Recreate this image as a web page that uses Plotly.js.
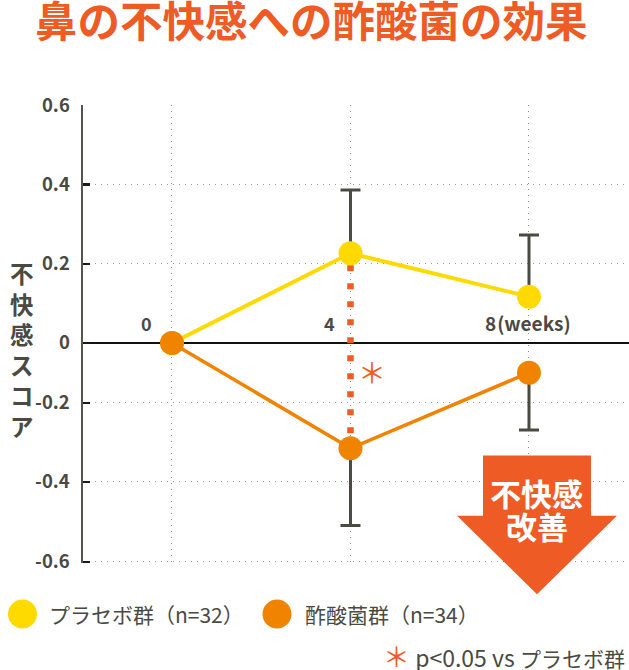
<!DOCTYPE html>
<html>
<head>
<meta charset="utf-8">
<script src="https://cdn.plot.ly/plotly-3.0.1.min.js"></script>
<style>
  html, body { margin: 0; padding: 0; background: #fff; }
  #chart { width: 629px; height: 670px; }
</style>
</head>
<body>
<div id="chart"></div>
<script>
// weeks on the x axis
const weeks = [0, 4, 8];

// scores (axis units, 0 line = baseline)
const placeboScore = [0, 0.2265, 0.117];
const placeboErrUp = [0, 0.160, 0.156];
const acetoScore = [0, -0.266, -0.075];
const acetoErrDown = [0, 0.195, 0.145];

const xTickLabels = ['0', '4', '8(weeks)'];
const yTickVals = [0.6, 0.4, 0.2, 0, -0.1515, -0.351, -0.553];
const yTickLabels = ['0.6', '0.4', '0.2', '0', '-0.2', '-0.4', '-0.6'];

const legendLabels = ['プラセボ群（n=32）', '酢酸菌群（n=34）'];

const FONT = '"Noto Sans CJK JP", "Noto Sans", sans-serif';
const DARK = '#4a4a42';
const RED = '#ef5b25';
const YELLOW = '#ffda00';
const ORANGE = '#f08300';

function renderChart(containerId) {
    // significance dots between the two groups at week 4
    const sigLine = {
        x: [weeks[1], weeks[1]],
        y: [acetoScore[1], placeboScore[1]],
        type: 'scatter',
        mode: 'lines',
        line: { color: RED, width: 6.5, dash: '3px,12px,3px,0px' },
        hoverinfo: 'skip'
    };

    const placebo = {
        x: weeks,
        y: placeboScore,
        type: 'scatter',
        mode: 'lines+markers',
        name: legendLabels[0],
        line: { color: YELLOW, width: 4 },
        marker: { color: YELLOW, size: 24 },
        error_y: {
            type: 'data', symmetric: false,
            array: placeboErrUp, arrayminus: [0, 0, 0],
            color: DARK, thickness: 3, width: 10
        }
    };

    const aceto = {
        x: weeks,
        y: acetoScore,
        type: 'scatter',
        mode: 'lines+markers',
        name: legendLabels[1],
        line: { color: ORANGE, width: 3.5 },
        marker: { color: ORANGE, size: 24 },
        error_y: {
            type: 'data', symmetric: false,
            array: [0, 0, 0], arrayminus: acetoErrDown,
            color: DARK, thickness: 3, width: 10
        }
    };

    const tickFont = { family: FONT, size: 18, color: DARK, weight: 'bold' };

    const annotations = [
        // y axis title, stacked vertically
        {
            xref: 'paper', yref: 'paper', x: -0.1117, y: 0.467,
            xanchor: 'center', yanchor: 'middle', showarrow: false,
            text: '不<br>快<br>感<br>ス<br>コ<br>ア',
            font: { family: FONT, size: 23.5, color: DARK, weight: 'bold' }
        },
        // x tick labels sit just above the zero line
        {
            x: weeks[0], y: 0, xanchor: 'right', yanchor: 'bottom', xshift: -18, yshift: 5,
            showarrow: false, text: xTickLabels[0], font: tickFont
        },
        {
            x: weeks[1], y: 0, xanchor: 'right', yanchor: 'bottom', xshift: -13, yshift: 5,
            showarrow: false, text: xTickLabels[1], font: tickFont
        },
        {
            x: weeks[2], y: 0, xanchor: 'center', yanchor: 'bottom', xshift: -1, yshift: 5,
            showarrow: false,
            text: '8<span style="font-size:4px"> </span>(weeks)',
            font: { family: FONT, size: 19, color: DARK, weight: 'bold' }
        },
        // asterisk next to the week-4 comparison
        {
            x: weeks[1], y: -0.073, xanchor: 'center', yanchor: 'middle', xshift: 22,
            showarrow: false, text: '＊',
            font: { family: FONT, size: 28, color: RED }
        },
        // arrow text
        {
            xref: 'paper', yref: 'paper', x: 0.8315, y: 0.1535,
            xanchor: 'center', yanchor: 'middle', showarrow: false,
            text: '不快感',
            font: { family: FONT, size: 31, color: '#ffffff', weight: 'bold' }
        },
        {
            xref: 'paper', yref: 'paper', x: 0.8315, y: 0.0811,
            xanchor: 'center', yanchor: 'middle', showarrow: false,
            text: '改善',
            font: { family: FONT, size: 31, color: '#ffffff', weight: 'bold' }
        },
        // legend
        {
            xref: 'paper', yref: 'paper', x: -0.0659, y: -0.1114,
            xanchor: 'left', yanchor: 'middle', showarrow: false,
            text: legendLabels[0],
            font: { family: FONT, size: 21, color: DARK }
        },
        {
            xref: 'paper', yref: 'paper', x: 0.4029, y: -0.1114,
            xanchor: 'left', yanchor: 'middle', showarrow: false,
            text: legendLabels[1],
            font: { family: FONT, size: 21, color: DARK }
        },
        {
            xref: 'paper', yref: 'paper', x: 0.9963, y: -0.2030,
            xanchor: 'right', yanchor: 'middle', showarrow: false,
            text: '<span style="color:' + RED + ';font-size:27px">＊</span>' +
                  '<span style="font-size:23px"> p&lt;0.05 vs </span>プラセボ群',
            font: { family: FONT, size: 21, color: DARK }
        }
    ];

    const shapes = [
        // big down arrow
        {
            type: 'path', xref: 'paper', yref: 'paper', layer: 'above',
            path: 'M0.7326,0.2346 L0.9304,0.2346 L0.9304,0.1031 L0.9780,0.1031 ' +
                  'L0.8315,-0.0680 L0.6850,0.1031 L0.7326,0.1031 Z',
            fillcolor: RED, line: { width: 0 }
        },
        // legend dots
        {
            type: 'circle', xref: 'paper', yref: 'paper',
            xsizemode: 'pixel', ysizemode: 'pixel',
            xanchor: -0.1108, yanchor: -0.1114,
            x0: -14.5, x1: 14.5, y0: -14.5, y1: 14.5,
            fillcolor: YELLOW, line: { width: 0 }
        },
        {
            type: 'circle', xref: 'paper', yref: 'paper',
            xsizemode: 'pixel', ysizemode: 'pixel',
            xanchor: 0.3553, yanchor: -0.1114,
            x0: -14.5, x1: 14.5, y0: -14.5, y1: 14.5,
            fillcolor: ORANGE, line: { width: 0 }
        }
    ];

    const layout = {
        width: 629,
        height: 670,
        margin: { l: 83, r: 0, t: 105, b: 107 },
        paper_bgcolor: '#ffffff',
        plot_bgcolor: '#ffffff',
        showlegend: false,
        font: { family: FONT, color: DARK },
        title: {
            text: '鼻の不快感への酢酸菌の効果',
            xref: 'container', yref: 'container',
            x: 0.0556, xanchor: 'left',
            y: 0.9664, yanchor: 'middle',
            font: { family: FONT, size: 42.5, color: RED, weight: 'bold' }
        },
        xaxis: {
            range: [-1.994, 10.241],
            tickvals: weeks,
            showticklabels: false,
            ticks: '',
            showline: false,
            zeroline: false,
            showgrid: true,
            gridcolor: '#8f8f8f',
            gridwidth: 1,
            griddash: '1px,5px'
        },
        yaxis: {
            range: [-0.5556, 0.601],
            tickvals: yTickVals,
            ticktext: yTickLabels,
            ticks: 'inside',
            ticklen: 7,
            tickwidth: 2.5,
            tickcolor: '#1a1a1a',
            ticklabelstandoff: 7,
            tickfont: { family: FONT, size: 18.5, color: DARK, weight: 'bold' },
            showline: true,
            linecolor: '#55554d',
            linewidth: 2.5,
            showgrid: true,
            gridcolor: '#9a9a9a',
            gridwidth: 1,
            griddash: '1px,5px',
            zeroline: true,
            zerolinecolor: '#111111',
            zerolinewidth: 2.5
        },
        annotations: annotations,
        shapes: shapes
    };

    Plotly.newPlot(containerId, [sigLine, placebo, aceto], layout, { displayModeBar: false, staticPlot: true });
}

renderChart('chart');
</script>
</body>
</html>
